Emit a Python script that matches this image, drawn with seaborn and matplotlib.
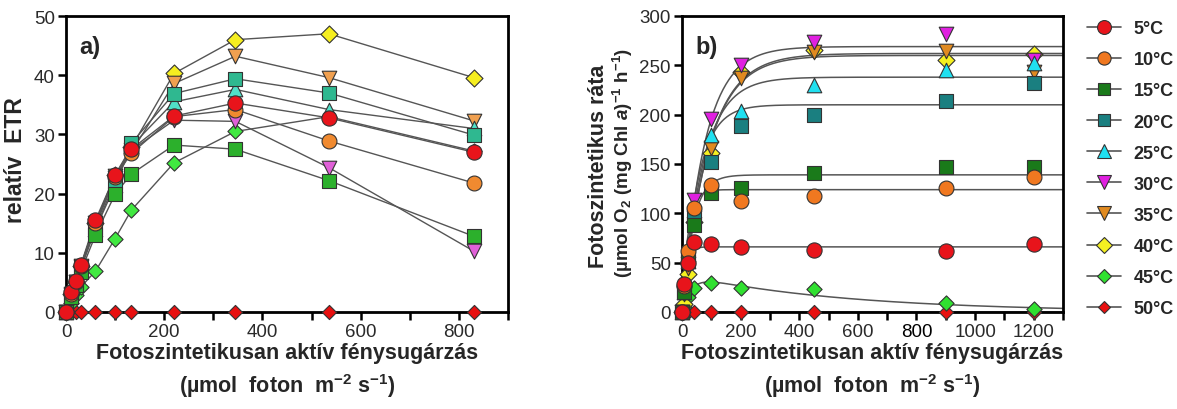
import numpy as np
import pandas as pd
import matplotlib
matplotlib.use("Agg")
import matplotlib.pyplot as plt
from matplotlib.lines import Line2D
import seaborn as sns

# ---------------- data ----------------
temps = ["5°C", "10°C", "15°C", "20°C", "25°C", "30°C", "35°C", "40°C", "45°C", "50°C"]

# panel a) relative ETR
par_a = [0, 10, 20, 30, 60, 100, 133, 220, 345, 535, 830]
etr_5 = [0, 3.3, 5.2, 7.9, 15.5, 23.1, 27.5, 33.1, 35.3, 32.8, 27.0]
etr_10 = [0, 3.0, 5.0, 7.7, 15.0, 22.8, 26.8, 33.0, 34.2, 28.9, 21.8]
etr_15 = [0, 2.5, 4.5, 6.8, 13.0, 19.9, 23.3, 28.2, 27.5, 22.2, 12.8]
etr_20 = [0, 2.8, 4.9, 7.5, 14.2, 22.0, 28.5, 36.9, 39.4, 37.0, 29.9]
etr_25 = [0, 2.7, 4.8, 7.3, 14.0, 21.4, 28.0, 35.5, 37.6, 34.2, 31.0]
etr_30 = [0, 2.9, 5.0, 7.6, 14.6, 22.6, 27.3, 32.4, 32.2, 24.4, 10.3]
etr_35 = [0, 3.0, 5.1, 7.7, 15.0, 23.0, 27.0, 38.6, 43.2, 39.6, 32.3]
etr_40 = [0, 3.0, 5.0, 7.8, 15.0, 23.2, 27.8, 40.3, 46.0, 47.0, 39.6]
etr_45 = [0, 1.5, 2.8, 4.2, 6.9, 12.4, 17.2, 25.2, 30.5, 33.0, 27.2]
etr_50 = [0, 0, 0, 0, 0, 0, 0, 0, 0, 0, 0]
etr_all = [etr_5, etr_10, etr_15, etr_20, etr_25, etr_30, etr_35, etr_40, etr_45, etr_50]

# panel b) photosynthetic rate
par_b = [0, 8, 20, 40, 100, 200, 450, 900, 1200]
ps_5 = [0, 28, 50, 71, 69, 66, 63, 62, 69]
ps_10 = [0, 26, 62, 105, 129, 113, 118, 126, 136.5]
ps_15 = [0, 20, 52, 88, 121, 126, 141, 147, 147]
ps_20 = [0, 20, 56, 100, 152, 189, 200, 214, 232]
ps_25 = [0, 20, 52, 103, 179, 204, 230, 245, 252]
ps_30 = [0, 19, 49, 114, 196, 250, 274, 282, 255]
ps_35 = [0, 18, 45, 95, 166, 237, 264, 265, 243]
ps_40 = [0, 8, 39, 91, 161, 243, 266, 255, 261]
ps_45 = [0, 5, 15, 24, 29, 24, 23, 9, 3]
ps_50 = [0, 0, 0, 0, 0, 0, 0, 0, 0]
ps_all = [ps_5, ps_10, ps_15, ps_20, ps_25, ps_30, ps_35, ps_40, ps_45, ps_50]

# fitted P-I curve parameters (Platt model) read from panel b)
fit_pmax = [66, 124, 139, 210, 238, 269, 260, 262, 38, 0]
fit_alpha = [5.0, 6.0, 3.8, 3.9, 3.3, 3.5, 2.9, 2.9, 1.2, 0]
fit_beta = [0, 0, 0, 0, 0, 0, 0, 0, 0.0684, 0]

# ---------------- styles ----------------
markers = ["o", "o", "s", "s", "^", "v", "v", "D", "D", "D"]
msizes = [120, 115, 95, 95, 110, 110, 110, 75, 60, 52]
cols_a = ["#e8141b", "#f08a30", "#2cb02c", "#2fb890", "#50e0c8", "#e060d8",
          "#f0a050", "#f5ee20", "#40e840", "#e81010"]
cols_b = ["#e8141b", "#f07820", "#1a7a1a", "#1a7f80", "#20e0f0", "#e020e0",
          "#e08a20", "#f5f020", "#30e030", "#e81010"]
edge = "#333333"
linec = "#555555"

sns.set_theme(style="ticks")
plt.rcParams["font.family"] = ["Liberation Sans", "DejaVu Sans"]
plt.rcParams["mathtext.fontset"] = "custom"
plt.rcParams["mathtext.rm"] = "Liberation Sans"
plt.rcParams["mathtext.bf"] = "Liberation Sans:bold"
plt.rcParams["mathtext.it"] = "Liberation Sans:italic:bold"
plt.rcParams["axes.linewidth"] = 2.0

fig = plt.figure(figsize=(11.77, 4.10), dpi=100)
axA = fig.add_axes([66 / 1177, 1 - 313 / 410, 442 / 1177, 296 / 410])
axB = fig.add_axes([682 / 1177, 1 - 313 / 410, 381 / 1177, 296 / 410])

# panel a
for i in reversed(range(len(temps))):
    df = pd.DataFrame({"x": par_a, "y": etr_all[i]})
    sns.lineplot(data=df, x="x", y="y", ax=axA, color=linec, lw=1.0, sort=False,
                 estimator=None)
for i in reversed(range(len(temps))):
    df = pd.DataFrame({"x": par_a, "y": etr_all[i]})
    sns.scatterplot(data=df, x="x", y="y", ax=axA, marker=markers[i], s=msizes[i],
                    color=cols_a[i], edgecolor=edge, linewidth=0.8, zorder=5 + (9 - i),
                    clip_on=False)

# panel b
curve_x = np.linspace(0, 1300, 400)
for i in reversed(range(len(temps))):
    if fit_pmax[i] > 0:
        cy = fit_pmax[i] * (1 - np.exp(-fit_alpha[i] * curve_x / fit_pmax[i])) * \
            np.exp(-fit_beta[i] * curve_x / fit_pmax[i])
    else:
        cy = np.zeros_like(curve_x)
    sns.lineplot(x=curve_x, y=cy, ax=axB, color=linec, lw=1.1, sort=False, estimator=None)
for i in reversed(range(len(temps))):
    df = pd.DataFrame({"x": par_b, "y": ps_all[i]})
    sns.scatterplot(data=df, x="x", y="y", ax=axB, marker=markers[i], s=msizes[i],
                    color=cols_b[i], edgecolor=edge, linewidth=0.8, zorder=5 + (9 - i),
                    clip_on=False)

# axes formatting
for ax in (axA, axB):
    ax.set_xlabel("")
    ax.set_ylabel("")
    for sp in ax.spines.values():
        sp.set_visible(True)
        sp.set_linewidth(2.0)
        sp.set_color("black")
    ax.tick_params(axis="both", which="both", direction="out", length=6, width=1.8,
                   labelsize=13.5, colors="black", pad=2)
    for lab in ax.get_xticklabels() + ax.get_yticklabels():
        lab.set_color("#2a2a2a")

axA.set_xlim(0, 900)
axA.set_ylim(0, 50)
axA.set_xticks(np.arange(0, 901, 100))
axA.set_xticklabels([str(v) if v % 200 == 0 else "" for v in range(0, 901, 100)])
axA.set_yticks(np.arange(0, 51, 10))

axB.set_xlim(0, 1300)
axB.set_ylim(0, 300)
axB.set_xticks(np.arange(0, 1301, 100))
axB.set_xticklabels([str(v) if v % 200 == 0 else "" for v in range(0, 1301, 100)])
axB.set_yticks(np.arange(0, 301, 50))

axA.text(0.03, 0.935, "a)", transform=axA.transAxes, fontsize=17, fontweight="bold",
         va="top", ha="left")
axB.text(0.035, 0.935, "b)", transform=axB.transAxes, fontsize=17, fontweight="bold",
         va="top", ha="left")

# axis titles
fig.text(16 / 1177, 1 - 160 / 410, "relatív  ETR", rotation=90, ha="center", va="center",
         fontsize=16.5, fontweight="bold")
fig.text(598 / 1177, 1 - 166 / 410, "Fotoszintetikus ráta", rotation=90, ha="center",
         va="center", fontsize=15.5, fontweight="bold")
fig.text(623 / 1177, 1 - 163 / 410,
         r"(µmol O$_\mathbf{2}$ (mg Chl $\mathit{a}$)$^\mathbf{-1}$ h$^\mathbf{-1}$)",
         rotation=90, ha="center", va="center", fontsize=13.5, fontweight="bold")
for cx in (287, 872):
    fig.text(cx / 1177, 1 - 354 / 410, "Fotoszintetikusan aktív fénysugárzás", ha="center",
             va="center", fontsize=15.5, fontweight="bold")
    fig.text(cx / 1177, 1 - 386 / 410, r"(µmol  foton  m$^\mathbf{-2}$ s$^\mathbf{-1}$)",
             ha="center", va="center", fontsize=15.5, fontweight="bold")

# legend
ms_leg = [10, 9.5, 8.5, 8.5, 9.5, 9.5, 9.5, 8, 7, 6.5]
handles = [Line2D([0], [0], color=linec, lw=1.2, marker=markers[i], markersize=ms_leg[i],
                  markerfacecolor=cols_b[i], markeredgecolor=edge, markeredgewidth=0.8)
           for i in range(len(temps))]
leg = fig.legend(handles, temps, loc="upper left", bbox_to_anchor=(1071 / 1177, 1 - 5 / 410),
                 frameon=False, handlelength=1.85, labelspacing=0.78,
                 prop={"weight": "bold", "size": 13}, handletextpad=0.72)

fig.savefig("out.png", dpi=100)
